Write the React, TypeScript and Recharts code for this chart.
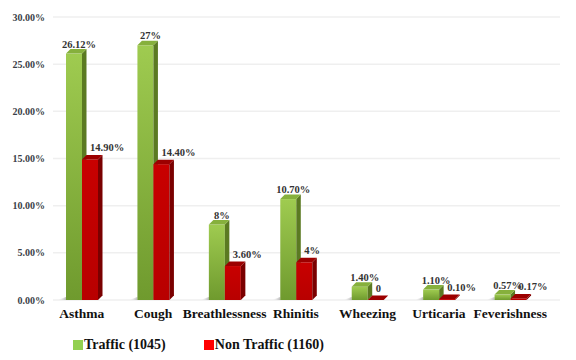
import React from 'react';
import { BarChart, Bar, XAxis, YAxis, CartesianGrid, LabelList, Legend } from 'recharts';

const categories = ['Asthma', 'Cough', 'Breathlessness', 'Rhinitis', 'Wheezing', 'Urticaria', 'Feverishness'];
const trafficValues = [26.12, 27, 8, 10.7, 1.4, 1.1, 0.57];
const nonTrafficValues = [14.9, 14.4, 3.6, 4, 0, 0.1, 0.17];
const trafficLabels = ['26.12%', '27%', '8%', '10.70%', '1.40%', '1.10%', '0.57%'];
const nonTrafficLabels = ['14.90%', '14.40%', '3.60%', '4%', '0', '0.10%', '0.17%'];
const yTicks = [0, 5, 10, 15, 20, 25, 30];
const seriesNames = ['Traffic (1045)', 'Non Traffic (1160)'];
const legendColors = ['#92d050', '#ff0000'];

const data = categories.map((c, i) => ({
  name: c,
  traffic: trafficValues[i],
  nonTraffic: nonTrafficValues[i],
  tl: trafficLabels[i],
  nl: nonTrafficLabels[i],
}));

const FONT = '"Liberation Serif", "Times New Roman", serif';

type Pal = { id: string; top: string; bottom: string; side: string; cap: string };
const greenPal: Pal = { id: 'gFront', top: '#9fcb50', bottom: '#6f9a2e', side: '#5b7a22', cap: '#86b03c' };
const redPal: Pal = { id: 'rFront', top: '#c80000', bottom: '#b80000', side: '#7a0000', cap: '#9c0000' };

const make3D = (p: Pal) => (props: any) => {
  const { x, y, width, height } = props;
  if (x == null || y == null) return null;
  const h = Math.max(height || 0, 0);
  const d = 4.5;
  const b = y + h;
  return (
    <g>
      <defs>
        <linearGradient id={p.id} x1="0" y1="0" x2="0" y2="1">
          <stop offset="0%" stopColor={p.top} />
          <stop offset="100%" stopColor={p.bottom} />
        </linearGradient>
        <linearGradient id="shadowG" x1="0" y1="0" x2="1" y2="0">
          <stop offset="0%" stopColor="#ffffff" stopOpacity={0} />
          <stop offset="100%" stopColor="#8a8a8a" stopOpacity={0.6} />
        </linearGradient>
      </defs>
      {p.id === 'gFront' && (
        <polygon points={`${x - 9},${b} ${x},${b - 3} ${x},${b}`} fill="url(#shadowG)" />
      )}
      {h > 0 && <rect x={x} y={y} width={width} height={h} fill={`url(#${p.id})`} />}
      <polygon
        points={`${x + width},${y} ${x + width + d},${y - d} ${x + width + d},${b - d} ${x + width},${b}`}
        fill={p.side}
      />
      <polygon
        points={`${x},${y} ${x + d},${y - d} ${x + width + d},${y - d} ${x + width},${y}`}
        fill={p.cap}
      />
    </g>
  );
};

const GreenLabel = (props: any) => {
  const vb = props.viewBox || {};
  const x = vb.x, y = vb.y, width = vb.width;
  if (x == null) return null;
  return (
    <text x={x + width / 2 + 5} y={y - 6} textAnchor="middle" fontFamily={FONT} fontWeight="bold" fontSize={10.5} fill="#333">
      {props.value}
    </text>
  );
};

const RedLabel = (props: any) => {
  const vb = props.viewBox || {};
  const x = vb.x, y = vb.y;
  if (x == null) return null;
  return (
    <text x={x + 8} y={y - 8} textAnchor="start" fontFamily={FONT} fontWeight="bold" fontSize={10.5} fill="#333">
      {props.value}
    </text>
  );
};

const LegendContent = () => (
  <div style={{ display: 'flex', justifyContent: 'flex-start', fontFamily: FONT, fontWeight: 'bold', fontSize: 14, color: '#111' }}>
    {seriesNames.map((n, i) => (
      <div key={n} style={{ display: 'flex', alignItems: 'center', marginLeft: i === 0 ? 73 : 38 }}>
        <span style={{ display: 'inline-block', width: 10, height: 10, background: legendColors[i], marginRight: 1 }} />
        <span>{n}</span>
      </div>
    ))}
  </div>
);

export default function App() {
  return (
    <div style={{ position: 'absolute', left: 0, top: 0, width: 576, height: 360, background: '#fff' }}>
      <BarChart
        width={576}
        height={360}
        data={data}
        margin={{ top: 17, right: 16, left: 0, bottom: 30 }}
        barGap={0}
        barSize={16}
      >
        <CartesianGrid horizontal vertical={false} stroke="#efefef" strokeWidth={1.5} />
        <XAxis
          dataKey="name"
          height={30}
          axisLine={false}
          tickLine={false}
          padding={{ left: -7, right: 14 }}
          interval={0}
          tick={{ fontFamily: FONT, fontWeight: 'bold', fontSize: 13.5, fill: '#111' }}
          dy={0}
        />
        <YAxis
          domain={[0, 30]}
          ticks={yTicks}
          width={53}
          axisLine={false}
          tickLine={false}
          tickFormatter={(v: number) => v.toFixed(2) + '%'}
          tick={{ fontFamily: FONT, fontWeight: 'bold', fontSize: 10, fill: '#3a3f48' }}
        />
        <Legend verticalAlign="middle" align="center" layout="horizontal" wrapperStyle={{ top: 337, left: 0, width: 576 }} content={<LegendContent />} />
        <Bar dataKey="traffic" name={seriesNames[0]} shape={make3D(greenPal)} isAnimationActive={false}>
          <LabelList dataKey="tl" content={<GreenLabel />} />
        </Bar>
        <Bar dataKey="nonTraffic" name={seriesNames[1]} shape={make3D(redPal)} isAnimationActive={false}>
          <LabelList dataKey="nl" content={<RedLabel />} />
        </Bar>
      </BarChart>
    </div>
  );
}
